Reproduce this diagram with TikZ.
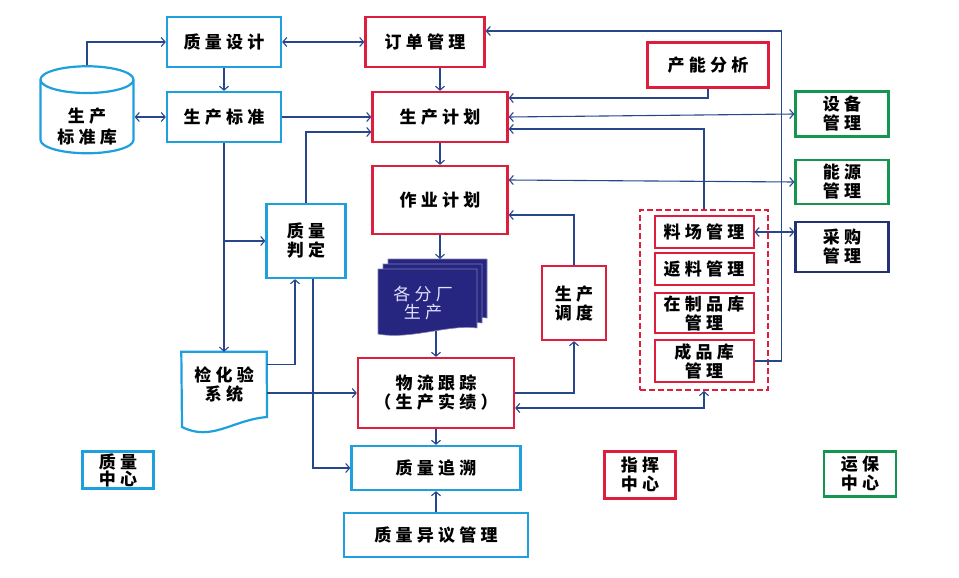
\documentclass[tikz,border=0pt]{standalone}
\usepackage{fontspec}
\usepackage{tikz}
\usetikzlibrary{positioning,calc,shapes.geometric,arrows.meta}
\newfontfamily\cjk[LetterSpace=25]{Noto Sans CJK SC}
\definecolor{zlblue}{RGB}{30,160,220}
\definecolor{zhred}{RGB}{222,30,60}
\definecolor{ybgreen}{RGB}{20,150,80}
\definecolor{cgnavy}{RGB}{35,50,115}
\definecolor{lnblue}{RGB}{40,70,140}
\definecolor{fcnavy}{RGB}{38,38,128}
\definecolor{fctext}{RGB}{225,225,255}
\tikzset{
  box/.style={draw, line width=2.2pt, fill=white, align=center, inner sep=0pt,
    font=\cjk\bfseries\fontsize{17}{19}\selectfont},
  qbox/.style={box, draw=zlblue},
  rbox/.style={box, draw=zhred},
  gbox/.style={box, draw=ybgreen},
  sbox/.style={rbox, line width=2pt, minimum width=99pt},
  link/.style={draw=lnblue, line width=1.1pt, -{Straight Barb[length=4pt,width=9pt]}},
  dlink/.style={link, {Straight Barb[length=4pt,width=9pt]}-{Straight Barb[length=4pt,width=9pt]}},
  fcpage/.style={fill=fcnavy, draw=fcnavy!60!white, line width=0.6pt},
}

\begin{document}
\begin{tikzpicture}[x=1pt,y=-1pt]
\useasboundingbox (0,0) rectangle (959,578);

% quality centre side
\node[qbox, minimum width=114pt, minimum height=50pt] (zlsj) at (224,42) {质量设计};
\node[qbox, minimum width=114pt, minimum height=50pt] (scbz) at (224,117) {生产标准};
\node[qbox, cylinder, shape border rotate=90, aspect=0.45,
  minimum width=93pt, minimum height=87pt] (sckz) at (87,117)
  {\raisebox{-16pt}[0pt][0pt]{\begin{tabular}{@{}c@{}}生产\\标准库\end{tabular}}};
\node[qbox, minimum width=79pt, minimum height=74pt] (zlpd) at (306,241) {质量\\判定};
\node[minimum width=85pt, minimum height=66pt, inner sep=0pt, align=center,
  font=\cjk\bfseries\fontsize{17}{19}\selectfont] (jhy) at (224,385) {检化验\\系统};
\draw[zlblue, line width=2.2pt] (jhy.north west) -- (jhy.north east) -- (267,417)
  .. controls (232,420) and (212,442) .. (182,427) -- cycle;
\node[qbox, minimum width=169pt, minimum height=44pt] (zlzs) at (436,468) {质量追溯};
\node[qbox, minimum width=184pt, minimum height=44pt] (zlyy) at (436,535) {质量异议管理};

% command centre side
\node[rbox, minimum width=119pt, minimum height=50pt] (ddgl) at (425,42) {订单管理};
\node[rbox, minimum width=135pt, minimum height=50pt] (scjh) at (440,117) {生产计划};
\node[rbox, minimum width=121pt, minimum height=45pt] (cnfx) at (708,65) {产能分析};
\node[rbox, minimum width=135pt, minimum height=68pt] (zyjh) at (440,200) {作业计划};
\node[rbox, minimum width=64pt, minimum height=74pt] (scdd) at (574,303) {生产\\调度};
\node[rbox, minimum width=156pt, minimum height=70pt] (wlgz) at (436,393) {物流跟踪\\（生产实绩）};

% branch factories
\draw[fcpage] (388,259) -- (487,259) -- (487,318) .. controls (460,314) and (420,330) .. (388,324) -- cycle;
\draw[fcpage] (383,264) -- (482,264) -- (482,323) .. controls (455,319) and (415,335) .. (383,329) -- cycle;
\draw[fcpage] (378,269) -- (477,269) -- (477,328) .. controls (450,324) and (410,340) .. (378,334) -- cycle;
\node[inner sep=0pt, align=center, text=fctext,
  font=\cjk\fontsize{17}{18}\selectfont] (fcsc) at (423,303) {各分厂\\生产};
\coordinate (fctop) at (440,259);
\coordinate (fcbot) at (436,331);

% stock group
\node[draw=zhred, dash pattern=on 6pt off 3pt, line width=1.8pt, minimum width=128pt, minimum height=180pt] (kcq) at (704,300) {};
\node[sbox, minimum height=32pt] (lcgl) at (704,232) {料场管理};
\node[sbox, minimum height=32pt] (flgl) at (704,269) {返料管理};
\node[sbox, minimum height=40pt] (zzpk) at (704,313) {在制品库\\管理};
\node[sbox, minimum height=42pt] (cpk) at (704,361) {成品库\\管理};

% support centre side
\node[gbox, minimum width=93pt, minimum height=45pt] (sbgl) at (842,114) {设备\\管理};
\node[gbox, minimum width=93pt, minimum height=44pt] (nygl) at (842,182) {能源\\管理};
\node[box, draw=cgnavy, minimum width=93pt, minimum height=50pt] (cggl) at (842,247) {采购\\管理};

% legend
\node[qbox, minimum width=71pt, minimum height=37pt, font=\cjk\bfseries\fontsize{17}{17}\selectfont] (zlzx) at (118,470) {质量\\中心};
\node[rbox, minimum width=71pt, minimum height=47pt] (zhzx) at (640,475) {指挥\\中心};
\node[gbox, minimum width=72pt, minimum height=45pt] (ybzx) at (860,474) {运保\\中心};

% connectors
\draw[link] (sckz.north) |- (zlsj.west);
\draw[dlink] (zlsj) -- (ddgl);
\draw[link] (zlsj) -- (scbz);
\draw[dlink] (sckz) -- (scbz);
\draw[link] (scbz) -- (scjh);
\draw[link] (ddgl.south -| scjh.north) -- (scjh.north);
\draw[link] (zlpd.north) |- ($(scjh.west)+(0,15)$);
\draw[link] (scbz.south) -- (jhy.north);
\draw[link] (scbz.south |- zlpd.west) -- (zlpd.west);
\draw[link] ($(jhy.north east)+(0,13)$) -| ($(zlpd.south)+(-11,0)$);
\draw[link] (jhy.east |- wlgz.west) -- (wlgz.west);
\draw[link] ($(zlpd.south)+(7,0)$) |- (zlzs.west);
\draw[link] (scjh) -- (zyjh);
\draw[link] (zyjh.south) -- (fctop);
\draw[link] (fcbot) -- (wlgz.north);
\draw[link] (wlgz) -- (zlzs);
\draw[link] (zlyy) -- (zlzs);
\draw[link] (wlgz.east) -| (scdd.south);
\draw[link] (scdd.north) |- ($(zyjh.east)+(0,15)$);
\draw[dlink] ($(wlgz.east)+(0,15)$) -| (kcq.south);
\draw[link] (cnfx.south) |- ($(scjh.east)+(0,-19)$);
\draw[dlink] (scjh.east) -- (sbgl.west);
\draw[link] (kcq.north) |- ($(scjh.east)+(0,12)$);
\draw[dlink] ($(zyjh.east)+(0,-20)$) -- (nygl.west);
\draw[dlink] (lcgl.east) -- (cggl.west |- lcgl.east);
\draw[link] (cpk.east) -- ++(27,0) |- ($(ddgl.east)+(0,-11)$);
\end{tikzpicture}
\end{document}
